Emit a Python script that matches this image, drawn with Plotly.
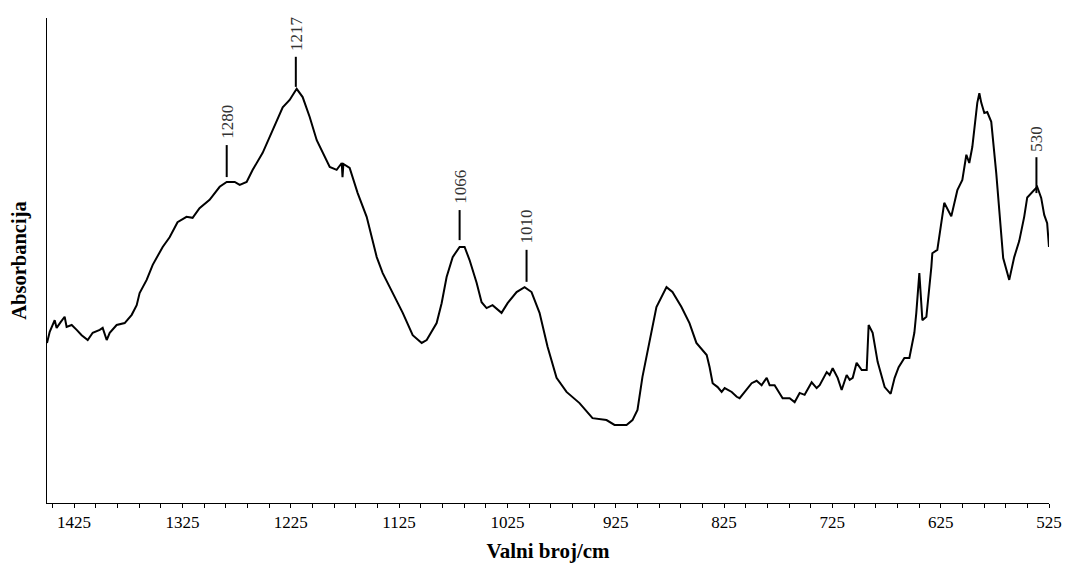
import plotly.graph_objects as go

# Spectrum (wavenumber in cm^-1, absorbance in arbitrary units)
wavenumber = [1450.0, 1447.5, 1442.9, 1441.1, 1437.4, 1433.7, 1431.9, 1427.2, 1422.6, 1418.0,
              1412.4, 1407.8, 1401.3, 1398.6, 1394.9, 1392.1, 1385.7, 1378.3, 1371.8, 1367.2,
              1364.5, 1358.0, 1352.4, 1343.2,
              1336.8, 1329.5, 1321.2, 1315.6, 1309.2, 1299.9, 1290.6, 1284.1, 1276.7, 1272.1,
              1265.7, 1260.1, 1250.9, 1241.7, 1232.4, 1226.0, 1219.5, 1214.0, 1207.5, 1201.0,
              1195.5, 1189.0, 1182.6, 1177.9, 1177.2, 1176.4, 1170.6, 1163.2, 1154.9, 1145.6,
              1140.1, 1130.9, 1121.6, 1112.4, 1104.1, 1099.5, 1090.3, 1085.7, 1081.1, 1075.5,
              1069.1, 1064.5, 1059.9, 1053.4, 1048.8, 1044.2, 1038.7, 1030.4, 1024.8, 1016.5,
              1009.1, 1002.7, 995.3, 987.9, 979.6, 970.4, 958.4, 946.4, 933.5, 926.1,
              915.0, 909.5, 904.9, 900.3, 893.8, 887.4, 878.1, 872.6, 864.3, 856.9,
              850.5, 841.0, 838.3, 835.5, 830.9, 827.2, 824.4, 817.9, 813.3, 810.6,
              805.9, 799.5, 794.9, 790.3, 785.6, 782.9, 778.3, 773.6, 770.9, 764.4,
              759.8, 755.2, 750.6, 744.1, 739.5, 736.7, 730.2, 727.5, 724.7, 720.1,
              716.4, 711.8, 709.0, 706.2, 702.6, 697.9, 693.3, 691.5, 687.8, 683.2,
              679.5, 676.7, 671.2, 667.5, 663.8,
              658.5, 653.9, 649.3, 647.5, 644.7, 641.9, 638.2, 633.6,
              632.7, 628.1, 624.4, 621.7, 615.2, 609.6, 605.0, 601.3, 598.6, 595.8,
              591.2, 589.3, 587.5, 584.7, 582.0, 578.3, 573.7, 570.9, 567.3, 561.7, 557.1,
              552.5, 547.9, 545.1, 538.7, 535.9, 532.2, 529.4, 526.7, 525.0]
absorbance = [0.330, 0.353, 0.377, 0.361, 0.373, 0.384, 0.363, 0.367, 0.357, 0.346,
              0.336, 0.351, 0.357, 0.361, 0.336, 0.351, 0.367, 0.371, 0.388, 0.408,
              0.433, 0.460, 0.491, 0.528,
              0.548, 0.579, 0.590, 0.588, 0.608, 0.625, 0.652, 0.662, 0.662, 0.656,
              0.662, 0.687, 0.722, 0.769, 0.816, 0.831, 0.854, 0.837, 0.796, 0.748,
              0.722, 0.693, 0.687, 0.701, 0.672, 0.699, 0.691, 0.639, 0.590, 0.507,
              0.474, 0.433, 0.392, 0.346, 0.330, 0.336, 0.371, 0.412, 0.466, 0.507,
              0.528, 0.528, 0.501, 0.454, 0.414, 0.402, 0.408, 0.392, 0.412, 0.435,
              0.445, 0.435, 0.392, 0.322, 0.258, 0.229, 0.206, 0.175, 0.171, 0.161,
              0.161, 0.171, 0.192, 0.260, 0.330, 0.404, 0.445, 0.435, 0.404, 0.371,
              0.330, 0.305, 0.280, 0.247, 0.239, 0.229, 0.237, 0.229, 0.219, 0.216,
              0.229, 0.247, 0.252, 0.243, 0.258, 0.243, 0.243, 0.227, 0.216, 0.216,
              0.208, 0.227, 0.223, 0.249, 0.237, 0.243, 0.270, 0.264, 0.278, 0.258,
              0.233, 0.264, 0.254, 0.258, 0.289, 0.274, 0.274, 0.367, 0.351, 0.291,
              0.260, 0.239, 0.225, 0.258, 0.280,
              0.299, 0.299, 0.351, 0.392, 0.474, 0.377, 0.384, 0.487,
              0.515, 0.522, 0.582, 0.619, 0.591, 0.645, 0.666, 0.718, 0.701, 0.734,
              0.825, 0.845, 0.825, 0.804, 0.806, 0.786, 0.680, 0.610, 0.505, 0.460, 0.507,
              0.540, 0.590, 0.630, 0.645, 0.652, 0.629, 0.594, 0.577, 0.528]

# Peak labels and their marker positions as drawn
peak_labels = ["1280", "1217", "1066", "1010", "530"]
peak_x = [1284.1, 1220.3, 1069.1, 1007.3, 536.6]
marker_bottom = [0.672, 0.858, 0.542, 0.456, 0.639]
marker_top = [0.738, 0.920, 0.604, 0.522, 0.713]

tick_values = [1425, 1325, 1225, 1125, 1025, 925, 825, 725, 625, 525]
tick_text = [str(v) for v in tick_values]

SERIF = "Liberation Serif"

fig = go.Figure()
fig.add_trace(go.Scatter(x=wavenumber, y=absorbance, mode="lines",
                         line=dict(color="black", width=2), showlegend=False,
                         hoverinfo="skip"))

for lab, px, yb, yt in zip(peak_labels, peak_x, marker_bottom, marker_top):
    fig.add_shape(type="line", xref="x", yref="y", x0=px, x1=px, y0=yb, y1=yt,
                  line=dict(color="black", width=2))
    fig.add_annotation(x=px, y=yt, xref="x", yref="y", text=lab, showarrow=False,
                       textangle=-90, xanchor="center", yanchor="bottom", yshift=4,
                       font=dict(family=SERIF, size=17, color="#333333"))

fig.update_layout(
    width=1065, height=563,
    margin=dict(l=47, r=16, t=18, b=60, autoexpand=False),
    paper_bgcolor="white", plot_bgcolor="white",
    font=dict(family=SERIF, color="black"),
    xaxis=dict(
        range=[1450, 525], showgrid=False, zeroline=False,
        showline=True, linecolor="black", linewidth=1,
        ticks="outside", ticklen=4, tickcolor="black", tickwidth=1,
        tickvals=tick_values, ticktext=tick_text,
        tickfont=dict(family=SERIF, size=17, color="black"),
        ticklabeloverflow="allow",
        minor=dict(dtick=20, tick0=1425, ticks="outside", ticklen=4,
                   tickcolor="black", tickwidth=1, showgrid=False),
        title=dict(text="<b>Valni broj/cm</b>", standoff=12,
                   font=dict(family=SERIF, size=21, color="black")),
        automargin=False,
    ),
    yaxis=dict(
        range=[0, 1], showgrid=False, zeroline=False,
        showline=True, linecolor="black", linewidth=1,
        ticks="", showticklabels=False,
        title=dict(text="<b>Absorbancija</b>", standoff=13,
                   font=dict(family=SERIF, size=20.5, color="black")),
        automargin=False,
    ),
)

# remove the default page margin so the figure sits at the window's top-left corner
fig.write_html("out.html",
               config={"displayModeBar": False, "staticPlot": True},
               post_script="document.body.style.margin='0';document.body.style.overflow='hidden';")
